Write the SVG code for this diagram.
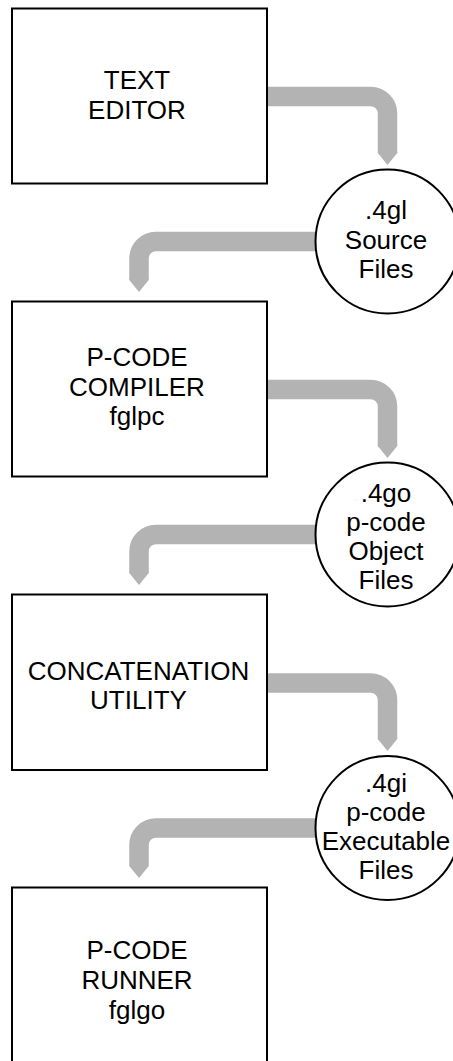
<svg xmlns="http://www.w3.org/2000/svg" width="453" height="1061" viewBox="0 0 453 1061">
<style>
.box{fill:#fff;stroke:#000;stroke-width:2}
.disk{fill:#fff;stroke:#000;stroke-width:2}
.conn{fill:none;stroke:#b3b3b3;stroke-width:19.5;stroke-linecap:butt}
text{font-family:"Liberation Sans",Arial,Helvetica,sans-serif;font-size:26px;fill:#000;text-anchor:middle}
</style>
<defs>
<marker id="head" markerUnits="userSpaceOnUse" viewBox="-1 -10 14 20" markerWidth="14" markerHeight="20" refX="0" refY="0" orient="auto">
<path d="M-1,-9.75 L0,-9.75 L12,0 L0,9.75 L-1,9.75 z" fill="#b3b3b3"/>
</marker>
</defs>
<g id="connectors">
<path class="conn" marker-end="url(#head)" d="M266,96.5 H370.5 A17,17 0 0 1 387.5,113.5 V153"/>
<path class="conn" marker-end="url(#head)" d="M387.5,241.5 H156 A17,17 0 0 0 139,258.5 V280"/>
<path class="conn" marker-end="url(#head)" d="M266,389.5 H370.5 A17,17 0 0 1 387.5,406.5 V446"/>
<path class="conn" marker-end="url(#head)" d="M387.5,534.5 H156 A17,17 0 0 0 139,551.5 V573"/>
<path class="conn" marker-end="url(#head)" d="M266,683 H370.5 A17,17 0 0 1 387.5,700 V739"/>
<path class="conn" marker-end="url(#head)" d="M387.5,828 H156 A17,17 0 0 0 139,845 V866"/>
</g>
<g id="text-editor">
<rect class="box" x="12" y="8.5" width="255" height="175"/>
<text x="137" y="89">TEXT</text>
<text x="137" y="119">EDITOR</text>
</g>
<g id="source-files">
<circle class="disk" cx="387.5" cy="241.5" r="72"/>
<text x="386" y="219">.4gl</text>
<text x="386" y="248.5">Source</text>
<text x="386" y="278">Files</text>
</g>
<g id="pcode-compiler">
<rect class="box" x="12" y="301.5" width="255" height="175"/>
<text x="137" y="366">P-CODE</text>
<text x="137" y="396">COMPILER</text>
<text x="137" y="425">fglpc</text>
</g>
<g id="object-files">
<circle class="disk" cx="387.5" cy="534.5" r="72"/>
<text x="386" y="502">.4go</text>
<text x="386" y="531">p-code</text>
<text x="386" y="560">Object</text>
<text x="386" y="589">Files</text>
</g>
<g id="concatenation-utility">
<rect class="box" x="12" y="594.5" width="255" height="175.5"/>
<text x="138.5" y="679.5">CONCATENATION</text>
<text x="138.5" y="708.5">UTILITY</text>
</g>
<g id="executable-files">
<circle class="disk" cx="387.5" cy="828" r="72"/>
<text x="386" y="791.5">.4gi</text>
<text x="386" y="820.5">p-code</text>
<text x="386" y="849.5">Executable</text>
<text x="386" y="878.5">Files</text>
</g>
<g id="pcode-runner">
<rect class="box" x="12" y="887.5" width="255" height="200"/>
<text x="137" y="958.5">P-CODE</text>
<text x="137" y="989">RUNNER</text>
<text x="137" y="1018.5">fglgo</text>
</g>
</svg>
